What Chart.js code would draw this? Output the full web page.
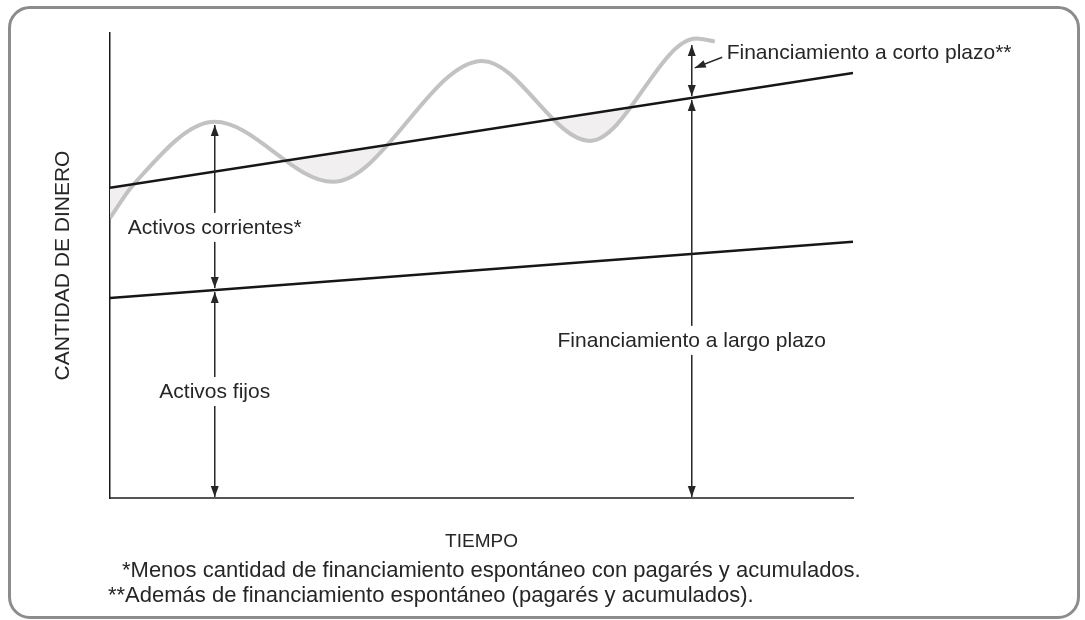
<!DOCTYPE html>
<html>
<head>
<meta charset="utf-8">
<script src="https://cdn.jsdelivr.net/npm/chart.js@4.4.0/dist/chart.umd.min.js"></script>
<style>
  body { margin: 0; background: #fff; }
  #wrap { position: relative; width: 1085px; height: 620px; }
  #frame { position: absolute; left: 8px; top: 6px; width: 1066px; height: 607px;
           border: 3px solid #8c8c8c; border-radius: 22px; pointer-events: none; }
  canvas { position: absolute; left: 0; top: 0; }
</style>
</head>
<body>
<div id="wrap">
  <canvas id="chart" width="1085" height="620"></canvas>
  <div id="frame"></div>
</div>
<script>
// Time runs 0..100 on x, money 0..100 on y
const upperX = [0, 100];
const upperY = [66.7, 91.4];   // fixed + permanent current assets
const lowerX = [0, 100];
const lowerY = [43.0, 55.1];   // fixed assets

// total assets, seasonal wave: start, peaks and troughs, end
const waveX = [0, 3.1, 14.1, 30.0, 50.1, 64.6, 78.9, 81.4];
const waveY = [60.2, 67.3, 80.9, 68.0, 94.0, 76.8, 98.8, 98.2];

// arrow columns and where their upper tips stop (just under the wave)
const arrowX = [14.1, 78.3];
const arrowTop = [80.2, 97.4];

const labels = ['Activos corrientes*', 'Activos fijos', 'Financiamiento a largo plazo', 'Financiamiento a corto plazo**'];
const labelX = [14.1, 14.1, 78.3, 83.0];
const labelY = [56.8, 21.5, 32.5, 94.4];   // baselines

const yTitle = 'CANTIDAD DE DINERO';
const xTitle = 'TIEMPO';
const notes = ['*Menos cantidad de financiamiento espontáneo con pagarés y acumulados.',
               '**Además de financiamiento espontáneo (pagarés y acumulados).'];

const FONT = "'Liberation Sans', Arial, sans-serif";
const INK = '#262626';

function toPts(xs, ys) {
  return xs.map((v, i) => ({ x: v, y: ys[i] }));
}

// value of a straight line at x
function lineAt(xs, ys, v) {
  const t = (v - xs[0]) / (xs[1] - xs[0]);
  return ys[0] + t * (ys[1] - ys[0]);
}

function head(ctx, x, y, dx, dy) {
  // filled arrow head with tip at x,y pointing along dx,dy
  const len = Math.hypot(dx, dy);
  const ux = dx / len, uy = dy / len;
  const L = 11, W = 4;
  ctx.beginPath();
  ctx.moveTo(x, y);
  ctx.lineTo(x - ux * L - uy * W, y - uy * L + ux * W);
  ctx.lineTo(x - ux * L + uy * W, y - uy * L - ux * W);
  ctx.closePath();
  ctx.fill();
}

function arrow(ctx, x1, y1, x2, y2, both) {
  ctx.beginPath();
  ctx.moveTo(x1, y1);
  ctx.lineTo(x2, y2);
  ctx.stroke();
  head(ctx, x2, y2, x2 - x1, y2 - y1);
  if (both) head(ctx, x1, y1, x1 - x2, y1 - y2);
}

const annot = {
  id: 'annot',
  afterDraw(chart) {
    const { ctx, scales: { x, y }, chartArea } = chart;
    ctx.save();
    ctx.strokeStyle = INK;
    ctx.fillStyle = INK;
    ctx.lineWidth = 1.5;

    // first column: current assets over fixed assets
    const ax = x.getPixelForValue(arrowX[0]);
    const low = y.getPixelForValue(lineAt(lowerX, lowerY, arrowX[0]));
    arrow(ctx, ax, y.getPixelForValue(arrowTop[0]), ax, low - 2, true);
    arrow(ctx, ax, low + 2, ax, y.getPixelForValue(0) - 1, true);

    // second column: short-term over long-term financing
    const bx = x.getPixelForValue(arrowX[1]);
    const up = y.getPixelForValue(lineAt(upperX, upperY, arrowX[1]));
    arrow(ctx, bx, y.getPixelForValue(arrowTop[1]), bx, up - 2, true);
    arrow(ctx, bx, up + 2, bx, y.getPixelForValue(0) - 1, true);

    // leader from the short-term label
    arrow(ctx, x.getPixelForValue(82.4), y.getPixelForValue(94.8),
          x.getPixelForValue(78.7), y.getPixelForValue(92.5), false);

    // labels, white box breaks the arrow line
    ctx.font = '21px ' + FONT;
    ctx.textBaseline = 'alphabetic';
    labels.forEach((t, i) => {
      const px = x.getPixelForValue(labelX[i]);
      const py = y.getPixelForValue(labelY[i]);
      const w = ctx.measureText(t).width;
      const left = i === 3 ? px : px - w / 2;
      if (i < 3) {
        ctx.fillStyle = '#fff';
        ctx.fillRect(left - 4, py - 21, w + 8, 29);
      }
      ctx.fillStyle = INK;
      ctx.textAlign = 'left';
      ctx.fillText(t, left, py);
    });

    // axis titles
    ctx.textAlign = 'center';
    ctx.save();
    ctx.translate(69, (chartArea.top + chartArea.bottom) / 2);
    ctx.rotate(-Math.PI / 2);
    ctx.fillText(yTitle, 0, 0);
    ctx.restore();
    ctx.font = '19px ' + FONT;
    ctx.fillText(xTitle, (chartArea.left + chartArea.right) / 2, 547);

    // footnotes
    ctx.font = '22px ' + FONT;
    ctx.textAlign = 'left';
    ctx.fillText(notes[0], 122, 577);
    ctx.fillText(notes[1], 108, 602);
    ctx.restore();
  }
};

new Chart(document.getElementById('chart'), {
  type: 'line',
  data: {
    datasets: [
      {
        label: 'upper',
        data: toPts(upperX, upperY),
        borderColor: '#161616',
        borderWidth: 2.5,
        pointRadius: 0,
        fill: false
      },
      {
        label: 'lower',
        data: toPts(lowerX, lowerY),
        borderColor: '#161616',
        borderWidth: 2.5,
        pointRadius: 0,
        fill: false
      },
      {
        label: 'wave',
        data: toPts(waveX, waveY),
        borderColor: '#c2c2c2',
        borderWidth: 4,
        pointRadius: 0,
        cubicInterpolationMode: 'monotone',
        fill: { target: 0, above: 'rgba(0,0,0,0)', below: '#f1eff0' }
      }
    ]
  },
  options: {
    responsive: false,
    animation: false,
    layout: { padding: { left: 110, right: 232, top: 33, bottom: 122 } },
    plugins: { legend: { display: false }, tooltip: { enabled: false } },
    scales: {
      x: {
        type: 'linear', min: 0, max: 100,
        ticks: { display: false },
        grid: { display: false, drawTicks: false },
        border: { display: true, color: '#555', width: 2 }
      },
      y: {
        type: 'linear', min: 0, max: 100,
        ticks: { display: false },
        grid: { display: false, drawTicks: false },
        border: { display: true, color: '#1a1a1a', width: 1.5 }
      }
    }
  },
  plugins: [annot]
});
</script>
</body>
</html>
